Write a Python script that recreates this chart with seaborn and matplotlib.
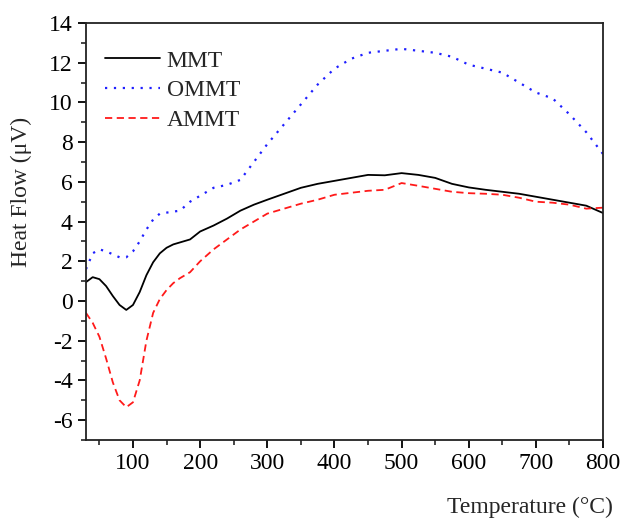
import matplotlib
matplotlib.use("Agg")
import matplotlib.pyplot as plt
import seaborn as sns
import pandas as pd
from matplotlib.ticker import MultipleLocator

temperature = [30, 40, 50, 60, 70, 80, 90, 100, 110, 120, 130, 140, 150, 160, 170,
               185, 200, 220, 240, 260, 280, 300, 325, 350, 375, 400, 425, 450, 475,
               500, 525, 550, 575, 600, 625, 650, 675, 700, 725, 750, 775, 800]

mmt = [0.95, 1.2, 1.1, 0.75, 0.25, -0.2, -0.45, -0.2, 0.45, 1.3, 1.95, 2.4, 2.68, 2.85, 2.95,
       3.1, 3.5, 3.8, 4.15, 4.55, 4.85, 5.1, 5.4, 5.7, 5.9, 6.05, 6.2, 6.35, 6.33,
       6.44, 6.35, 6.2, 5.9, 5.72, 5.6, 5.5, 5.4, 5.25, 5.1, 4.95, 4.8, 4.43]

ommt = [1.6, 2.4, 2.6, 2.5, 2.35, 2.2, 2.2, 2.5, 3.0, 3.6, 4.1, 4.4, 4.45, 4.5, 4.55,
        5.0, 5.3, 5.7, 5.85, 6.1, 7.0, 7.9, 8.9, 9.9, 10.9, 11.7, 12.2, 12.5, 12.6,
        12.7, 12.6, 12.5, 12.3, 11.9, 11.7, 11.5, 11.0, 10.5, 10.2, 9.4, 8.5, 7.4]

ammt = [-0.6, -1.1, -1.8, -2.9, -4.1, -5.0, -5.35, -5.1, -4.0, -2.0, -0.6, 0.1, 0.55, 0.9, 1.15,
        1.45, 2.0, 2.6, 3.1, 3.6, 4.0, 4.4, 4.65, 4.9, 5.1, 5.35, 5.45, 5.55, 5.6,
        5.94, 5.8, 5.65, 5.5, 5.43, 5.4, 5.35, 5.2, 5.0, 4.95, 4.85, 4.65, 4.7]

sns.set_style("ticks")
plt.rcParams['font.family'] = ['Liberation Serif', 'DejaVu Serif']
plt.rcParams['axes.unicode_minus'] = False

fig = plt.figure(figsize=(6.23, 5.18), dpi=100)
ax = fig.add_axes([0.138, 0.1506, 0.830, 0.805])

series = [("MMT", mmt, "black", "-", 1.3),
          ("OMMT", ommt, "#1f1fff", (0, (1, 3)), 1.6),
          ("AMMT", ammt, "#ff1a1a", (0, (4, 2.5)), 1.3)]

for name, vals, col, ls, lw in series:
    df = pd.DataFrame({"Temperature": temperature, "Heat": vals})
    sns.lineplot(data=df, x="Temperature", y="Heat", ax=ax, color=col,
                 linestyle=ls, linewidth=lw, label=name)

ax.set_xlim(30, 800)
ax.set_ylim(-7, 14)
ax.xaxis.set_major_locator(MultipleLocator(100))
ax.xaxis.set_minor_locator(MultipleLocator(50))
ax.yaxis.set_major_locator(MultipleLocator(2))
ax.yaxis.set_minor_locator(MultipleLocator(1))
ax.tick_params(which='major', direction='out', length=6, width=1.3, labelsize=17,
               top=False, right=False, colors='black')
ax.tick_params(which='minor', direction='out', length=3.5, width=1.2,
               top=False, right=False)
for s in ax.spines.values():
    s.set_linewidth(1.3)
    s.set_color('#222222')

ax.set_xlabel("Temperature (°C)", fontsize=17, ha='right', va='top')
ax.xaxis.set_label_coords(1.019, -0.137)
ax.set_ylabel("Heat Flow (μV)", fontsize=17, va='center')
ax.yaxis.set_label_coords(-0.124, 0.595)

ax.legend(loc='upper left', bbox_to_anchor=(-0.015, 1.0), frameon=False, fontsize=17,
          handlelength=2.3, handletextpad=0.3, labelspacing=0.35, borderaxespad=0.75)

fig.savefig("out.png", dpi=100, facecolor='white')
